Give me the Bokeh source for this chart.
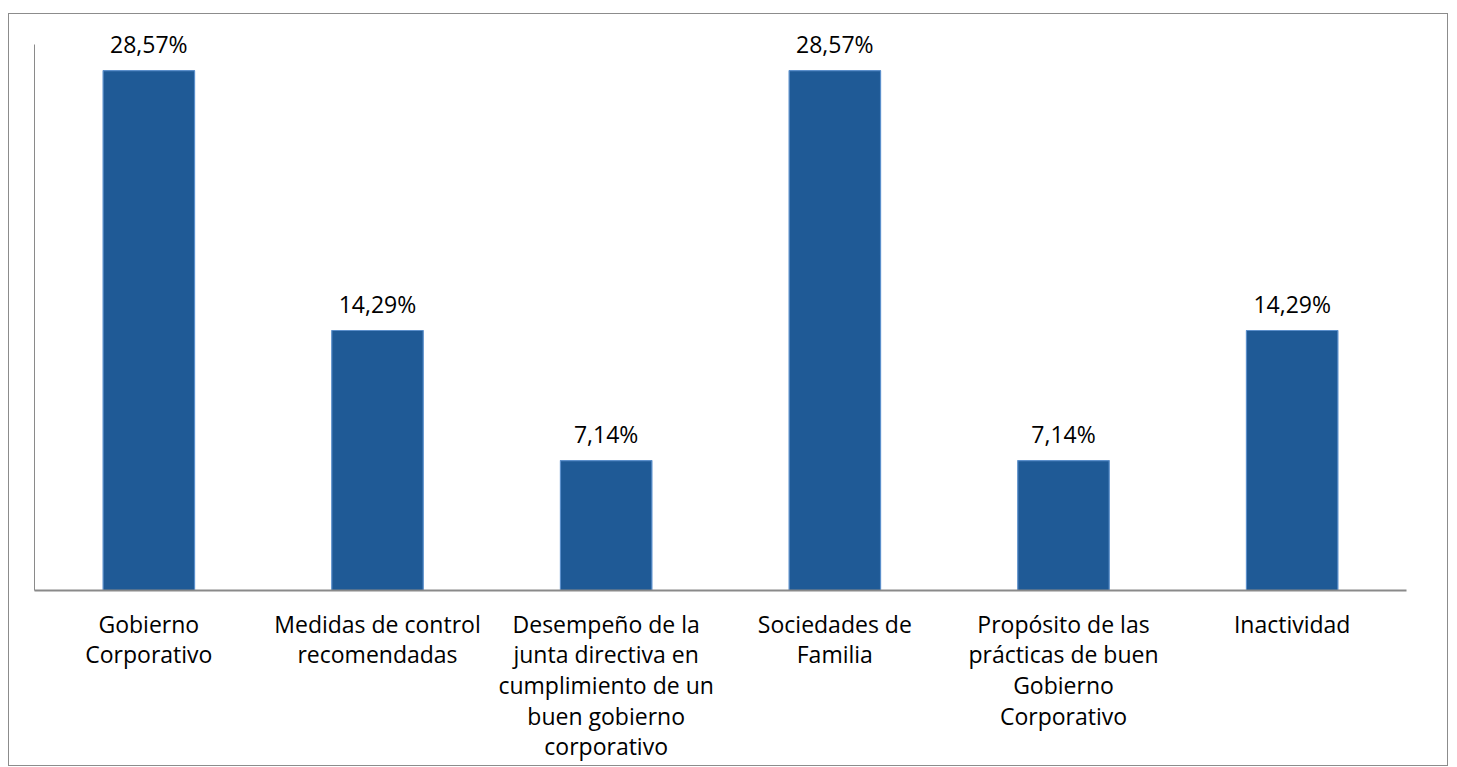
from bokeh.plotting import figure
from bokeh.models import ColumnDataSource, FactorRange, Range1d, FixedTicker
from bokeh.core.properties import value
from bokeh.embed import file_html
from bokeh.resources import INLINE

categories = [
    "Gobierno\nCorporativo",
    "Medidas de control\nrecomendadas",
    "Desempeño de la\njunta directiva en\ncumplimiento de un\nbuen gobierno\ncorporativo",
    "Sociedades de\nFamilia",
    "Propósito de las\nprácticas de buen\nGobierno\nCorporativo",
    "Inactividad",
]
values = [28.57, 14.29, 7.14, 28.57, 7.14, 14.29]
labels = ["28,57%", "14,29%", "7,14%", "28,57%", "7,14%", "14,29%"]

FONT = "Open Sans"

src = ColumnDataSource(dict(x=categories, top=values, label=labels))

p = figure(
    x_range=FactorRange(factors=categories, range_padding=0),
    y_range=Range1d(0, 31.0),
    width=1440, height=753,
    output_backend="svg", toolbar_location=None,
    min_border_left=25, min_border_top=12, min_border_right=43, min_border_bottom=177,
)
p.margin = (13, 0, 0, 8)
p.styles = {"border": "1px solid #8c8c8c"}
p.outline_line_color = None
p.grid.visible = False
p.background_fill_color = "white"
p.border_fill_color = "white"

p.vbar(x="x", top="top", width=0.4, source=src,
       fill_color="#1F5A96", line_color="#5B8FCB", line_width=1.2)

p.text(x="x", y="top", text="label", source=src, y_offset=-27,
       text_align="center", text_baseline="alphabetic",
       text_font=value(FONT), text_font_size="23px", text_color="#000000")

xa = p.xaxis[0]
xa.major_tick_line_color = None
xa.minor_tick_line_color = None
xa.axis_line_color = "#8a8a8a"
xa.axis_line_width = 2
xa.major_label_text_font = FONT
xa.major_label_text_font_size = "23px"
xa.major_label_text_color = "#000000"
xa.major_label_text_line_height = 0.96
xa.major_label_standoff = 11

ya = p.yaxis[0]
ya.bounds = (0, 30)
ya.ticker = FixedTicker(ticks=[])
ya.major_tick_line_color = None
ya.minor_tick_line_color = None
ya.axis_line_color = "#8a8a8a"
ya.axis_line_width = 1

open("out.html", "w").write(file_html(p, INLINE))
